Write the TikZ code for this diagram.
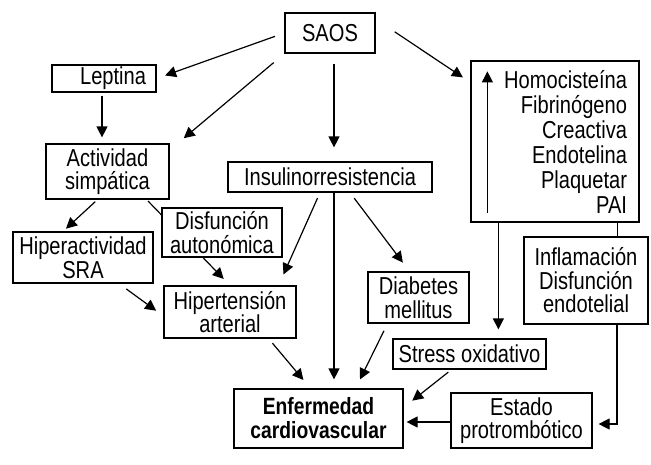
\documentclass[tikz,border=0pt]{standalone}
\usepackage{fontspec}
\setmainfont{Liberation Sans}[FakeStretch=0.82]
\usetikzlibrary{arrows.meta}

\begin{document}
\begin{tikzpicture}[x=1pt,y=-1pt,arr/.style={line width=1.2pt,
        -{Triangle[length=11pt,width=11pt]}},big/.style={font=\fontsize{24.5}{23.5}\selectfont}]
    \tikzstyle{box}=[draw,line width=1.2pt,fill=white,inner sep=2pt,align=center,big]

    \useasboundingbox (0,0) rectangle (651,464);

    \node[box,minimum width=90pt,minimum height=40pt] (saos) at (330,33) {SAOS};
    \node[box,minimum width=104pt,minimum height=27pt,text width=84pt,align=right] (leptina) at (104,78.5) {Leptina};
    \node[box,minimum width=123pt,minimum height=55pt] (actividad) at (107.5,171.5) {Actividad\\simpática};
    \node[box,minimum width=204pt,minimum height=30pt] (insulina) at (330,177) {Insulinorresistencia};
    \node[box,minimum width=168pt,minimum height=161pt,inner xsep=12pt,text width=144pt,align=right,
        font=\fontsize{24.5}{25}\selectfont] (homo) at (555,141.5) {Homocisteína\\Fibrinógeno\\Creactiva\\Endotelina\\Plaquetar\\PAI};
    \node[box,minimum width=140pt,minimum height=51pt] (hiper) at (83,257.5) {Hiperactividad\\SRA};
    \node[box,minimum width=132pt,minimum height=52pt] (hta) at (230,312) {Hipertensión\\arterial};
    \node[box,minimum width=169pt,minimum height=59pt,font=\bfseries\fontsize{23.5}{24}\selectfont] (enf) at (318.5,418.5) {Enfermedad\\cardiovascular};
    \node[box,minimum width=101pt,minimum height=51pt] (diabetes) at (418.5,297.5) {Diabetes\\mellitus};
    \node[box,minimum width=153pt,minimum height=30pt] (stress) at (469.5,354) {Stress oxidativo};
    \node[box,minimum width=124pt,minimum height=87pt] (inflam) at (586,280.5) {Inflamación\\Disfunción\\endotelial};
    \node[box,minimum width=141pt,minimum height=55pt] (estado) at (521.5,420.5) {Estado\\protrombótico};

    \draw[arr,shorten <=10pt,shorten >=9pt] (saos.west) -- (leptina.east);
    \draw[arr,shorten <=14pt,shorten >=8pt] (saos.south west) -- ([xshift=8pt]actividad.north east);
    \draw[arr,shorten <=3pt,shorten >=6pt] ([xshift=-2pt]leptina.south) -- ([xshift=-2pt]leptina.south |- actividad.north);
    \draw[arr,shorten <=10pt,shorten >=14pt] ([xshift=4pt]saos.south) -- ([xshift=4pt]insulina.north);
    \draw[arr,shorten <=23pt,shorten >=9pt] ([yshift=14pt]saos.east) -- ([yshift=-22pt]homo.north west);
    \draw[arr,shorten <=3pt,shorten >=4pt] ([xshift=-10pt]actividad.south) -- ([xshift=-20pt]hiper.north);
    \draw[arr,shorten <=2pt,shorten >=9pt] ([xshift=-23pt]actividad.south east) -- (hta.north);
    \draw[arr,shorten <=9pt,shorten >=9pt] ([xshift=36pt]hiper.south) -- ([yshift=-4pt]hta.west);
    \draw[arr,shorten <=6pt,shorten >=12pt] ([xshift=-10pt]insulina.south) -- ([xshift=-18pt]hta.north east);
    \draw[arr,shorten >=9pt] ([xshift=4pt]insulina.south) -- ([xshift=4pt]insulina.south |- enf.north);
    \draw[arr,shorten <=7pt,shorten >=11pt] ([xshift=20pt]insulina.south) -- ([xshift=-9pt]diabetes.north);
    \draw[arr,shorten <=6pt,shorten >=11pt] ([xshift=-28pt]hta.south east) -- ([xshift=-8pt]enf.north);
    \draw[arr,shorten <=8pt,shorten >=10pt] ([xshift=-31pt]diabetes.south) -- ([xshift=-48pt]enf.north east);
    \draw[arr,shorten >=9pt] ([xshift=28pt]homo.south west) -- ([xshift=28pt]homo.south west |- stress.north);
    \draw[line width=1.2pt] ([xshift=-22pt]homo.south east) -- ([xshift=-22pt]homo.south east |- inflam.north);
    \draw[arr,shorten <=4pt,shorten >=11pt] ([xshift=-18pt]stress.south) -- ([yshift=11pt]enf.east);
    \draw[arr,shorten >=3pt] ([yshift=-1.5pt]estado.west) -- ([yshift=-1.5pt]estado.west -| enf.east);
    \draw[arr,shorten >=6pt] ([xshift=31pt]inflam.south) |- ([yshift=-3.5pt]estado.east);

    \coordinate (up0) at ([xshift=17pt,yshift=10pt]homo.south west);
    \coordinate (up1) at ([xshift=17pt,yshift=-11pt]homo.north west);
    \draw[arr] (up0) -- (up1);

    \node[box,minimum width=120pt,minimum height=49pt] (disf) at (222,232.5) {Disfunción\\autonómica};

\end{tikzpicture}
\end{document}
